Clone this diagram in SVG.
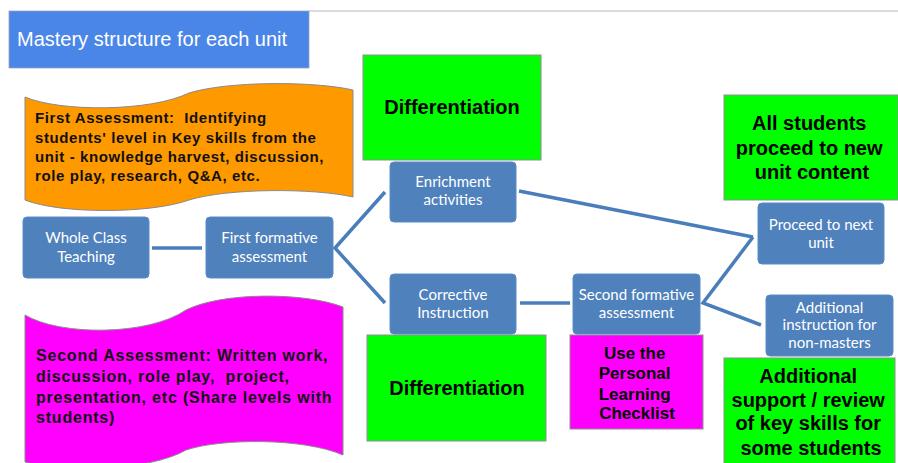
<svg xmlns="http://www.w3.org/2000/svg" width="898" height="463" viewBox="0 0 898 463">
<style>
.node rect{fill:#4f81bd;stroke:#5b8cc6;stroke-width:1}
.node text{fill:#fff;font-family:Lato,"Open Sans","Liberation Sans",sans-serif;font-size:15px;text-anchor:middle}
.green{fill:#00ff00;stroke:#8f8f8f;stroke-width:1}
.mag{fill:#ff00ff;stroke:#8f8f8f;stroke-width:1}
.big{font-family:"Liberation Sans",Arial,sans-serif;font-weight:bold;fill:#000;text-anchor:middle}
.conn{fill:none;stroke:#4a7ebb;stroke-width:3.5}
.note{font-family:"Liberation Sans",Arial,sans-serif;font-weight:bold;fill:#111}
</style>
<rect width="898" height="463" fill="#fff"/>
<line x1="309" y1="11" x2="898" y2="11" stroke="#cfcfcf" stroke-width="1.5"/>
<g id="title">
<rect x="9" y="11" width="300" height="57" fill="#4a86e8" stroke="#9aa6b8" stroke-width="0.8"/>
<text x="17" y="46" font-family="'Liberation Sans',Arial,sans-serif" font-size="20" fill="#fff">Mastery structure for each unit</text>
</g>
<g id="first-assessment">
<path d="M25,97 C60,112 150,112 189,93 C228,81 314,81 353,90 L353,197 C314,188 228,188 189,200 C150,214 60,214 25,200 Z" fill="#ff9900" stroke="#8a8a8a" stroke-width="1"/>
<text class="note" font-size="15" letter-spacing="0.6">
<tspan x="35" y="123" xml:space="preserve">First Assessment:  Identifying</tspan>
<tspan x="35" y="143">students' level in Key skills from the</tspan>
<tspan x="35" y="162">unit - knowledge harvest, discussion,</tspan>
<tspan x="35" y="181">role play, research, Q&amp;A, etc.</tspan>
</text>
</g>
<g id="second-assessment">
<path d="M25,315 C60,336 148,336 186,310 C222,292 304,292 343,307 L343,455 C304,438 222,438 186,450 C148,472 60,472 25,462 Z" fill="#ff00ff" stroke="#8a8a8a" stroke-width="1"/>
<text class="note" font-size="16" letter-spacing="0.8">
<tspan x="36" y="361">Second Assessment: Written work,</tspan>
<tspan x="36" y="382" xml:space="preserve">discussion, role play,  project,</tspan>
<tspan x="36" y="403">presentation, etc (Share levels with</tspan>
<tspan x="36" y="423">students)</tspan>
</text>
</g>
<g id="connectors">
<line class="conn" x1="152" y1="248" x2="202" y2="248"/>
<polyline class="conn" points="385,192 335,248 385,303"/>
<line class="conn" x1="520" y1="303" x2="570" y2="303"/>
<line class="conn" x1="519" y1="191" x2="753" y2="237"/>
<polyline class="conn" points="753,237 703,303 761,325"/>
</g>
<g id="diff-top">
<rect class="green" x="363" y="55" width="178" height="105"/>
<text class="big" x="452" y="114" font-size="20">Differentiation</text>
</g>
<g id="diff-bottom">
<rect class="green" x="367" y="335" width="179" height="106"/>
<text class="big" x="457" y="395" font-size="20">Differentiation</text>
</g>
<g id="checklist">
<rect class="mag" x="570" y="335" width="133" height="94"/>
<text class="big" font-size="17" fill="#1a0020">
<tspan x="637" y="359">Use the</tspan>
<tspan x="637" y="379">Personal</tspan>
<tspan x="637" y="400">Learning</tspan>
<tspan x="637" y="419">Checklist</tspan>
</text>
</g>
<g id="all-students">
<rect class="green" x="724" y="95" width="174" height="105"/>
<text class="big" font-size="20">
<tspan x="812" y="130">All students</tspan>
<tspan x="812" y="155">proceed to new</tspan>
<tspan x="812" y="179">unit content</tspan>
</text>
</g>
<g id="additional-support">
<rect class="green" x="724" y="358" width="171" height="110"/>
<text class="big" font-size="20">
<tspan x="811" y="383">Additional</tspan>
<tspan x="811" y="407">support / review</tspan>
<tspan x="811" y="430">of key skills for</tspan>
<tspan x="811" y="455">some students</tspan>
</text>
</g>
<g id="whole-class" class="node">
<rect x="23" y="217" width="126" height="61" rx="4"/>
<text><tspan x="86" y="243">Whole Class</tspan><tspan x="86" y="262">Teaching</tspan></text>
</g>
<g id="first-formative" class="node">
<rect x="206" y="217" width="127" height="61" rx="4"/>
<text><tspan x="269.5" y="243">First formative</tspan><tspan x="269.5" y="262">assessment</tspan></text>
</g>
<g id="enrichment" class="node">
<rect x="390" y="162" width="126" height="60" rx="4"/>
<text><tspan x="453" y="187">Enrichment</tspan><tspan x="453" y="205">activities</tspan></text>
</g>
<g id="corrective" class="node">
<rect x="390" y="274" width="126" height="60" rx="4"/>
<text><tspan x="453" y="300">Corrective</tspan><tspan x="453" y="318">Instruction</tspan></text>
</g>
<g id="second-formative" class="node">
<rect x="573" y="274" width="127" height="60" rx="4"/>
<text><tspan x="636.5" y="300">Second formative</tspan><tspan x="636.5" y="318">assessment</tspan></text>
</g>
<g id="proceed" class="node">
<rect x="758" y="203" width="126" height="61" rx="4"/>
<text><tspan x="821" y="230">Proceed to next</tspan><tspan x="821" y="248">unit</tspan></text>
</g>
<g id="additional-instruction" class="node">
<rect x="766" y="295" width="127" height="61" rx="4"/>
<text><tspan x="829.5" y="313">Additional</tspan><tspan x="829.5" y="330">instruction for</tspan><tspan x="829.5" y="348">non-masters</tspan></text>
</g>
</svg>
